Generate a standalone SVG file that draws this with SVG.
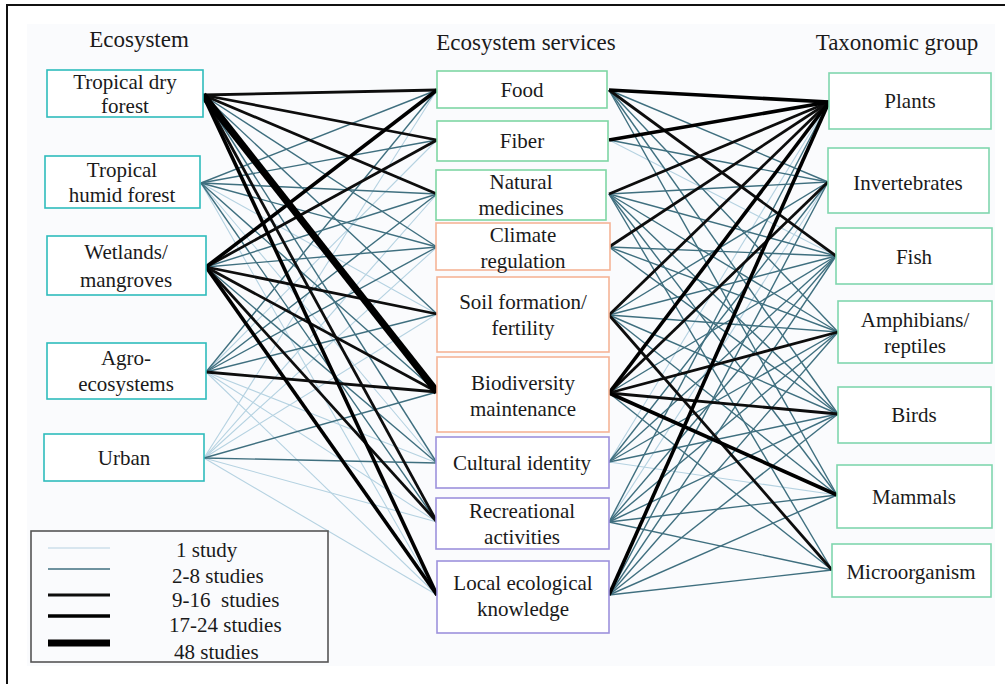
<svg xmlns="http://www.w3.org/2000/svg" width="1005" height="684" viewBox="0 0 1005 684" font-family="Liberation Serif, DejaVu Serif, serif">
<style>
text{font-size:21px;fill:#1a1a1a;text-anchor:middle}
.h{font-size:23px}
.lg{text-anchor:start;white-space:pre}
.box{fill:#fff;stroke-width:1.6}
.eco{stroke:#2fbcbc}
.prov{stroke:#7fd6a4}
.reg{stroke:#f5b497}
.cul{stroke:#9d92dc}
.tax{stroke:#80d6ae}
.w1{stroke:#b5d2e1;stroke-width:1.1}
.w2{stroke:#3f6f7f;stroke-width:1.4}
.w3{stroke:#0d0d0d;stroke-width:2.8}
.w4{stroke:#000;stroke-width:3.6}
.w5{stroke:#000;stroke-width:7}
</style>
<rect x="0" y="0" width="1005" height="684" fill="#fff"/>
<rect x="27" y="24" width="968" height="642" fill="#fafbfd"/>
<rect x="7" y="5" width="1010" height="700" fill="none" stroke="#111" stroke-width="2"/>

<g id="connectors" fill="none">
<line class="w1" x1="201" y1="183" x2="437" y2="314"/>
<line class="w1" x1="201" y1="183" x2="437" y2="463"/>
<line class="w1" x1="201" y1="183" x2="437" y2="595"/>
<line class="w1" x1="206" y1="372" x2="437" y2="140"/>
<line class="w1" x1="206" y1="372" x2="437" y2="463"/>
<line class="w1" x1="206" y1="372" x2="437" y2="522"/>
<line class="w1" x1="206" y1="372" x2="437" y2="595"/>
<line class="w1" x1="204" y1="458" x2="437" y2="90"/>
<line class="w1" x1="204" y1="458" x2="437" y2="194"/>
<line class="w1" x1="204" y1="458" x2="437" y2="247"/>
<line class="w1" x1="204" y1="458" x2="437" y2="314"/>
<line class="w1" x1="204" y1="458" x2="437" y2="522"/>
<line class="w1" x1="204" y1="458" x2="437" y2="595"/>
<line class="w1" x1="609" y1="462" x2="829" y2="102"/>
<line class="w1" x1="609" y1="462" x2="837" y2="495"/>
<line class="w1" x1="609" y1="522" x2="828" y2="182"/>
<line class="w1" x1="609" y1="140" x2="836" y2="256"/>
<line class="w2" x1="203" y1="95" x2="437" y2="247"/>
<line class="w2" x1="203" y1="95" x2="437" y2="314"/>
<line class="w2" x1="203" y1="95" x2="437" y2="463"/>
<line class="w2" x1="201" y1="183" x2="437" y2="90"/>
<line class="w2" x1="201" y1="183" x2="437" y2="140"/>
<line class="w2" x1="201" y1="183" x2="437" y2="194"/>
<line class="w2" x1="201" y1="183" x2="437" y2="247"/>
<line class="w2" x1="201" y1="183" x2="437" y2="392"/>
<line class="w2" x1="201" y1="183" x2="437" y2="522"/>
<line class="w2" x1="206" y1="267" x2="437" y2="194"/>
<line class="w2" x1="206" y1="267" x2="437" y2="247"/>
<line class="w2" x1="206" y1="267" x2="437" y2="463"/>
<line class="w2" x1="206" y1="372" x2="437" y2="90"/>
<line class="w2" x1="206" y1="372" x2="437" y2="194"/>
<line class="w2" x1="206" y1="372" x2="437" y2="247"/>
<line class="w2" x1="206" y1="372" x2="437" y2="314"/>
<line class="w2" x1="204" y1="458" x2="437" y2="392"/>
<line class="w2" x1="204" y1="458" x2="437" y2="463"/>
<line class="w2" x1="609" y1="90" x2="828" y2="182"/>
<line class="w2" x1="609" y1="90" x2="838" y2="332"/>
<line class="w2" x1="609" y1="90" x2="838" y2="414"/>
<line class="w2" x1="609" y1="90" x2="837" y2="495"/>
<line class="w2" x1="609" y1="140" x2="828" y2="182"/>
<line class="w2" x1="609" y1="194" x2="828" y2="182"/>
<line class="w2" x1="609" y1="194" x2="836" y2="256"/>
<line class="w2" x1="609" y1="194" x2="838" y2="332"/>
<line class="w2" x1="609" y1="194" x2="838" y2="414"/>
<line class="w2" x1="609" y1="194" x2="837" y2="495"/>
<line class="w2" x1="609" y1="194" x2="832" y2="570"/>
<line class="w2" x1="609" y1="247" x2="836" y2="256"/>
<line class="w2" x1="609" y1="247" x2="838" y2="332"/>
<line class="w2" x1="609" y1="247" x2="838" y2="414"/>
<line class="w2" x1="609" y1="315" x2="828" y2="182"/>
<line class="w2" x1="609" y1="315" x2="836" y2="256"/>
<line class="w2" x1="609" y1="315" x2="838" y2="332"/>
<line class="w2" x1="609" y1="315" x2="838" y2="414"/>
<line class="w2" x1="609" y1="315" x2="837" y2="495"/>
<line class="w2" x1="609" y1="393" x2="836" y2="256"/>
<line class="w2" x1="609" y1="393" x2="832" y2="570"/>
<line class="w2" x1="609" y1="462" x2="828" y2="182"/>
<line class="w2" x1="609" y1="462" x2="836" y2="256"/>
<line class="w2" x1="609" y1="462" x2="838" y2="332"/>
<line class="w2" x1="609" y1="462" x2="838" y2="414"/>
<line class="w2" x1="609" y1="522" x2="829" y2="102"/>
<line class="w2" x1="609" y1="522" x2="836" y2="256"/>
<line class="w2" x1="609" y1="522" x2="838" y2="332"/>
<line class="w2" x1="609" y1="522" x2="838" y2="414"/>
<line class="w2" x1="609" y1="522" x2="837" y2="495"/>
<line class="w2" x1="609" y1="522" x2="832" y2="570"/>
<line class="w2" x1="609" y1="595" x2="828" y2="182"/>
<line class="w2" x1="609" y1="595" x2="836" y2="256"/>
<line class="w2" x1="609" y1="595" x2="838" y2="332"/>
<line class="w2" x1="609" y1="595" x2="838" y2="414"/>
<line class="w2" x1="609" y1="595" x2="837" y2="495"/>
<line class="w2" x1="609" y1="595" x2="832" y2="570"/>
<line class="w3" x1="203" y1="95" x2="437" y2="90"/>
<line class="w3" x1="203" y1="95" x2="437" y2="140"/>
<line class="w3" x1="203" y1="95" x2="437" y2="194"/>
<line class="w3" x1="203" y1="95" x2="437" y2="522"/>
<line class="w3" x1="206" y1="267" x2="437" y2="140"/>
<line class="w3" x1="206" y1="267" x2="437" y2="314"/>
<line class="w3" x1="206" y1="267" x2="437" y2="392"/>
<line class="w3" x1="206" y1="267" x2="437" y2="522"/>
<line class="w3" x1="206" y1="372" x2="437" y2="392"/>
<line class="w3" x1="609" y1="90" x2="836" y2="256"/>
<line class="w3" x1="609" y1="194" x2="829" y2="102"/>
<line class="w3" x1="609" y1="247" x2="829" y2="102"/>
<line class="w3" x1="609" y1="315" x2="829" y2="102"/>
<line class="w3" x1="609" y1="315" x2="832" y2="570"/>
<line class="w3" x1="609" y1="393" x2="828" y2="182"/>
<line class="w3" x1="609" y1="393" x2="838" y2="332"/>
<line class="w3" x1="609" y1="393" x2="838" y2="414"/>
<line class="w4" x1="203" y1="95" x2="437" y2="595"/>
<line class="w4" x1="206" y1="267" x2="437" y2="90"/>
<line class="w4" x1="206" y1="267" x2="437" y2="595"/>
<line class="w4" x1="609" y1="90" x2="829" y2="102"/>
<line class="w4" x1="609" y1="140" x2="829" y2="102"/>
<line class="w4" x1="609" y1="393" x2="829" y2="102"/>
<line class="w4" x1="609" y1="393" x2="837" y2="495"/>
<line class="w4" x1="609" y1="595" x2="829" y2="102"/>
<line class="w5" x1="203" y1="95" x2="437" y2="392"/>
</g>

<g id="headings">
<text class="h" x="139" y="47">Ecosystem</text>
<text class="h" x="526" y="50">Ecosystem services</text>
<text class="h" x="897" y="50">Taxonomic group</text>
</g>

<g id="eco-dry"><rect class="box eco" x="47" y="70" width="156" height="47"/><text x="125" y="89">Tropical dry</text><text x="125" y="113">forest</text></g>
<g id="eco-humid"><rect class="box eco" x="45" y="156" width="155" height="52"/><text x="122" y="177">Tropical</text><text x="122" y="202">humid forest</text></g>
<g id="eco-wet"><rect class="box eco" x="47" y="236" width="159" height="59"/><text x="126" y="259">Wetlands/</text><text x="126" y="287">mangroves</text></g>
<g id="eco-agro"><rect class="box eco" x="47" y="343" width="159" height="56"/><text x="126" y="365">Agro-</text><text x="126" y="391">ecosystems</text></g>
<g id="eco-urban"><rect class="box eco" x="44" y="434" width="160" height="47"/><text x="124" y="465">Urban</text></g>

<g id="svc-food"><rect class="box prov" x="437" y="71" width="170" height="37"/><text x="522" y="97">Food</text></g>
<g id="svc-fiber"><rect class="box prov" x="437" y="121" width="171" height="40"/><text x="522" y="148">Fiber</text></g>
<g id="svc-med"><rect class="box prov" x="436" y="170" width="170" height="50"/><text x="521" y="189">Natural</text><text x="521" y="215">medicines</text></g>
<g id="svc-climate"><rect class="box reg" x="436" y="223" width="174" height="47"/><text x="523" y="242">Climate</text><text x="523" y="268">regulation</text></g>
<g id="svc-soil"><rect class="box reg" x="437" y="277" width="172" height="75"/><text x="523" y="309">Soil formation/</text><text x="523" y="335">fertility</text></g>
<g id="svc-bio"><rect class="box reg" x="437" y="357" width="172" height="75"/><text x="523" y="390">Biodiversity</text><text x="523" y="416">maintenance</text></g>
<g id="svc-cultural"><rect class="box cul" x="436" y="437" width="173" height="51"/><text x="522" y="470">Cultural identity</text></g>
<g id="svc-rec"><rect class="box cul" x="436" y="498" width="173" height="51"/><text x="522" y="518">Recreational</text><text x="522" y="544">activities</text></g>
<g id="svc-lek"><rect class="box cul" x="437" y="561" width="172" height="72"/><text x="523" y="590">Local ecological</text><text x="523" y="616">knowledge</text></g>

<g id="tax-plants"><rect class="box tax" x="829" y="73" width="162" height="56"/><text x="910" y="108">Plants</text></g>
<g id="tax-invert"><rect class="box tax" x="828" y="148" width="161" height="65"/><text x="908" y="190">Invertebrates</text></g>
<g id="tax-fish"><rect class="box tax" x="836" y="228" width="156" height="56"/><text x="914" y="264">Fish</text></g>
<g id="tax-amph"><rect class="box tax" x="838" y="301" width="154" height="62"/><text x="915" y="327">Amphibians/</text><text x="915" y="353">reptiles</text></g>
<g id="tax-birds"><rect class="box tax" x="838" y="387" width="153" height="56"/><text x="914" y="422">Birds</text></g>
<g id="tax-mammals"><rect class="box tax" x="837" y="465" width="155" height="63"/><text x="914" y="504">Mammals</text></g>
<g id="tax-micro"><rect class="box tax" x="832" y="544" width="159" height="53"/><text x="911" y="579">Microorganism</text></g>

<g id="legend">
<rect x="31" y="531" width="297" height="131" fill="none" stroke="#555" stroke-width="1.6"/>
<line class="w1" x1="48" y1="548" x2="110" y2="548"/>
<line class="w2" x1="48" y1="569" x2="110" y2="569"/>
<line class="w3" x1="48" y1="595" x2="110" y2="595"/>
<line class="w4" x1="48" y1="616" x2="110" y2="616"/>
<line class="w5" x1="48" y1="643" x2="110" y2="643"/>
<text class="lg" x="176" y="557">1 study</text>
<text class="lg" x="172" y="583">2-8 studies</text>
<text class="lg" x="172" y="607">9-16  studies</text>
<text class="lg" x="169" y="632">17-24 studies</text>
<text class="lg" x="174" y="659">48 studies</text>
</g>
</svg>
